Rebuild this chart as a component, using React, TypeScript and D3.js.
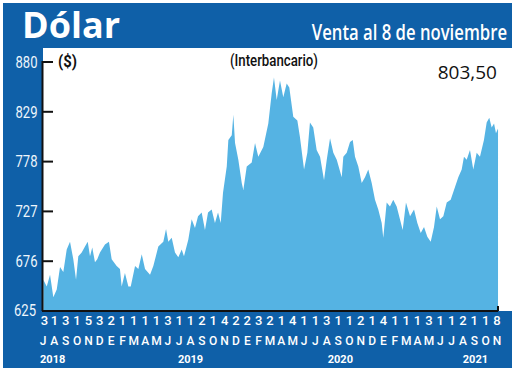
import * as d3 from "d3";

// posiciones en meses desde julio 2018 (0 = 3 jul 2018, 40 = 8 nov 2021)
const monthPos = [
  0.03, 0.33, 0.62, 0.91, 1.21, 1.5, 1.79, 2.09, 2.38, 2.67, 2.91, 3.11, 3.41, 3.7, 3.94,
  4.14, 4.34, 4.58, 4.78, 5.02, 5.46, 5.81, 6.05, 6.49, 6.78, 6.93, 7.22, 7.52, 7.73, 8.11,
  8.4, 8.7, 8.99, 9.43, 9.72, 10.16, 10.6, 10.84, 11.04, 11.34, 11.63, 11.92, 12.22, 12.42,
  12.8, 13.1, 13.39, 13.66, 13.98, 14.27, 14.54, 14.86, 15.15, 15.42, 15.66, 15.86, 16.19,
  16.33, 16.63, 16.77, 16.92, 17.21, 17.51, 17.65, 17.95, 18.39, 18.68, 18.97, 19.41, 19.85,
  20.15, 20.35, 20.59, 20.88, 21.17, 21.47, 21.7, 22.05, 22.41, 22.64, 23.0, 23.29, 23.52,
  23.81, 24.11, 24.41, 24.76, 25.0, 25.29, 25.58, 25.88, 26.32, 26.46, 26.76, 27.05, 27.29,
  27.49, 27.78, 28.08, 28.37, 28.66, 28.96, 29.25, 29.54, 29.84, 29.98, 30.28, 30.57, 30.86,
  31.16, 31.45, 31.69, 31.98, 32.34, 32.69, 32.98, 33.28, 33.57, 33.86, 34.16, 34.45, 34.69,
  34.98, 35.27, 35.57, 35.92, 36.3, 36.59, 36.89, 37.09, 37.33, 37.62, 37.91, 38.21, 38.5,
  38.85, 39.09, 39.32, 39.53, 39.74, 39.91, 40.09,
];

const dolar = [
  657, 650, 662, 639, 647, 670, 665, 688, 696, 678, 657, 681, 685, 691, 696,
  681, 690, 675, 678, 685, 693, 696, 678, 671, 668, 650, 664, 650, 650, 671,
  668, 683, 668, 662, 671, 691, 696, 709, 696, 700, 685, 680, 688, 681,
  698, 719, 710, 722, 726, 708, 726, 729, 715, 726, 715, 746, 773,
  800, 805, 826, 797, 780, 756, 749, 773, 777, 797, 783, 793, 817,
  848, 864, 841, 861, 844, 858, 854, 824, 820, 803, 770, 787, 818,
  813, 790, 783, 759, 780, 802, 787, 780, 762, 783, 787, 798, 800,
  783, 773, 756, 762, 770, 756, 739, 729, 715, 700, 736, 732, 739,
  732, 719, 708, 736, 722, 729, 715, 705, 711, 701, 696, 711, 732,
  719, 722, 736, 739, 752, 762, 770, 783, 780, 790, 770, 787, 783,
  800, 818, 823, 813, 817, 807, 812,
];

const yTicks = [625, 676, 727, 778, 829, 880];
const dayLabels = [3, 1, 3, 1, 5, 3, 2, 1, 1, 1, 1, 3, 1, 1, 2, 1, 4, 2, 2, 3, 2, 1, 4, 1, 1, 3, 1, 1, 2, 1, 4, 1, 1, 1, 3, 1, 1, 2, 1, 1, 8];
const monthLabels = "JASONDEFMAMJJASONDEFMAMJJASONDEFMAMJJASON".split("");
const years = ["2018", "2019", "2020", "2021"];
const yearPos = [0.85, 13, 26.2, 38.1];

const BLUE = "#0f60a8";
const AREA = "#55b3e3";

export default function App() {
  const width = 520;
  const height = 372;

  const x = d3.scaleLinear().domain([0, 40]).range([43, 497]);
  const y = d3.scaleLinear().domain([625, 880]).range([311, 62]);

  const points = monthPos.map((m, i) => [m, dolar[i]] as [number, number]);
  const area = d3.area<[number, number]>()
    .x((d) => x(d[0]))
    .y0(y(625))
    .y1((d) => y(d[1]));

  const font = "Roboto, 'Open Sans', sans-serif";

  return (
    <svg width={width} height={height} style={{ position: "absolute", left: 0, top: 0 }}>
      <rect x={0} y={0} width={width} height={height} fill="#fff" />
      <rect x={3} y={3} width={509} height={365} fill={BLUE} />
      <rect x={43} y={48} width={469} height={263} fill="#fff" />

      {/* cabecera */}
      <text x={22} y={38} fill="#fff" fontFamily="'Open Sans', sans-serif" fontWeight={700} fontSize={36}>
        Dólar
      </text>
      <g transform="translate(507,40) scale(0.8,1)">
        <text x={0} y={0} fill="#fff" fontFamily="'Open Sans', sans-serif" fontWeight={600} fontSize={21}
          textAnchor="end" textLength={244} lengthAdjust="spacingAndGlyphs">
          Venta al 8 de noviembre
        </text>
      </g>

      <path d={area(points) ?? ""} fill={AREA} />

      {/* ejes */}
      <line x1={42.5} x2={42.5} y1={y(880) - 1} y2={y(625)} stroke="#111" strokeWidth={2} />
      <line x1={42} x2={x(40.09)} y1={y(625)} y2={y(625)} stroke="#111" strokeWidth={2} />
      <line x1={x(40.09)} x2={x(40.09)} y1={y(625) - 5} y2={y(625)} stroke="#111" strokeWidth={2} />
      {yTicks.map((t) => (
        <g key={t}>
          {t !== 625 && <line x1={42} x2={53} y1={y(t)} y2={y(t)} stroke="#111" strokeWidth={2} />}
          <text x={t === 625 ? 36 : 37.5} y={y(t) - (t === 625 ? 1 : 0)} dy="0.36em" textAnchor="end"
            fill="#eef6fc" fontFamily={font} fontSize={16} textLength={22} lengthAdjust="spacingAndGlyphs">
            {t}
          </text>
        </g>
      ))}

      <text x={58} y={67} fontFamily={font} fontWeight={700} fontSize={16} fill="#111"
        textLength={19} lengthAdjust="spacingAndGlyphs">($)</text>
      <text x={274} y={66} textAnchor="middle" fontFamily={font} fontWeight={500} fontSize={17} fill="#111"
        textLength={88} lengthAdjust="spacingAndGlyphs">(Interbancario)</text>
      <text x={497} y={79} textAnchor="end" fontFamily="'Open Sans', sans-serif" fontSize={19} fill="#111">
        803,50
      </text>

      {/* etiquetas del eje x */}
      {dayLabels.map((d, i) => (
        <text key={"d" + i} x={x(i) + (i === 0 ? 1.5 : 0)} y={325} textAnchor="middle" fill="#fff" fontFamily={font}
          fontWeight={500} fontSize={13}>
          {d}
        </text>
      ))}
      {monthLabels.map((m, i) => (
        <text key={"m" + i} x={x(i)} y={345} textAnchor="middle" fill="#fff" fontFamily={font}
          fontWeight={500} fontSize={12}>
          {m}
        </text>
      ))}
      {years.map((yr, i) => (
        <text key={yr} x={x(yearPos[i])} y={363} textAnchor="middle" fill="#fff" fontFamily={font}
          fontWeight={700} fontSize={11}>
          {yr}
        </text>
      ))}
    </svg>
  );
}
